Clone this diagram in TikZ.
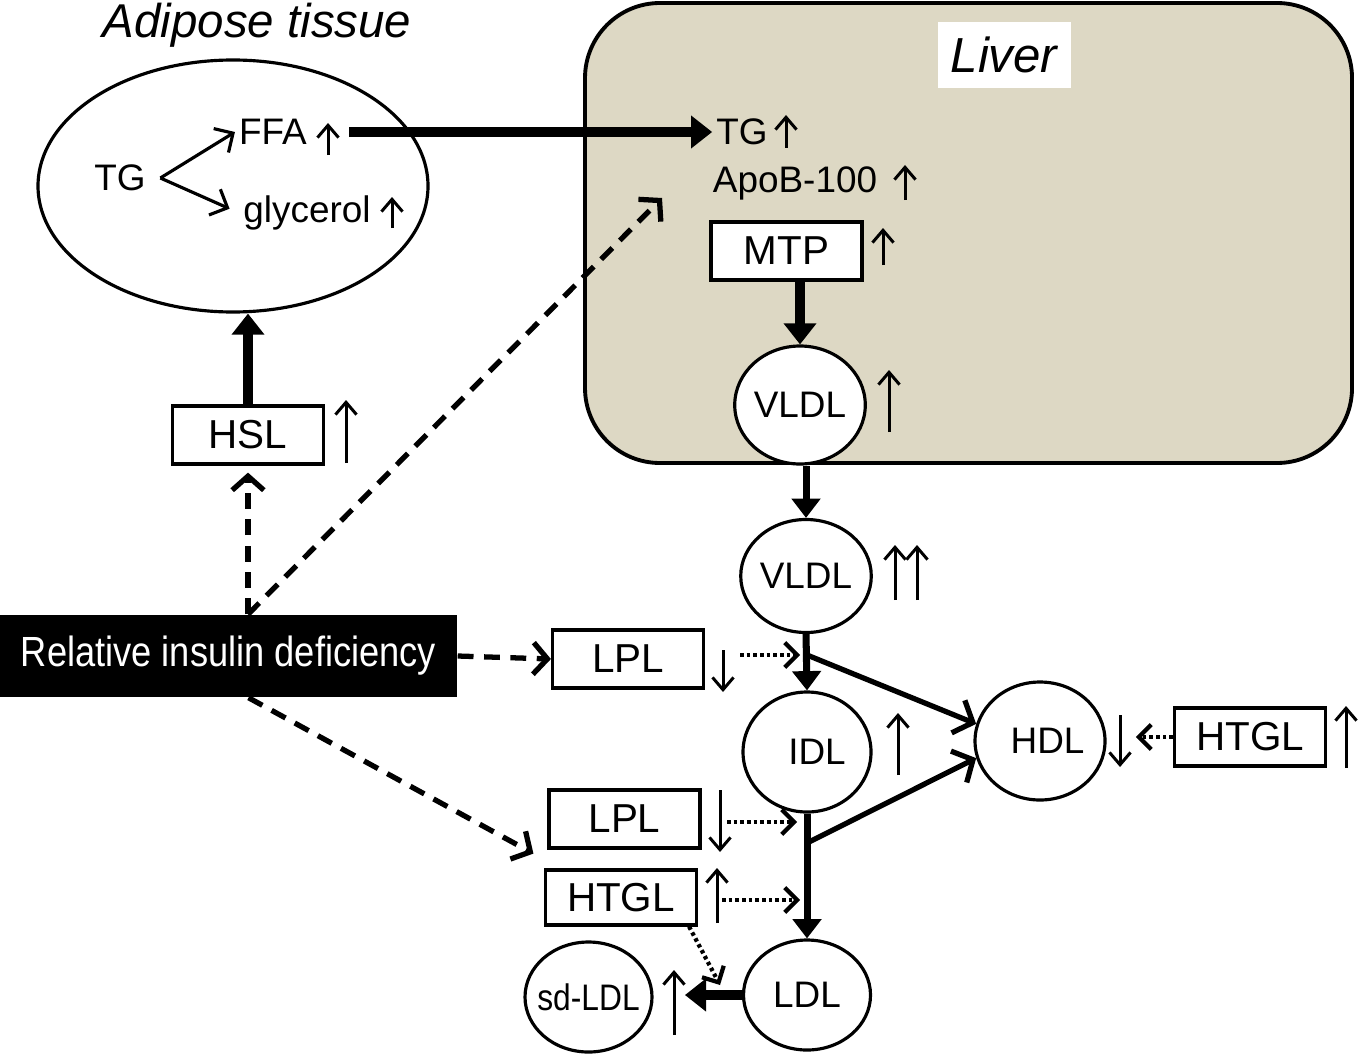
\documentclass[tikz,border=0pt]{standalone}
\usepackage{fontspec}
\setmainfont{Liberation Sans}
\newfontfamily\narrowfont{Liberation Sans}[FakeStretch=0.86]
\usetikzlibrary{arrows.meta, shapes.geometric, calc}
\definecolor{liverbg}{RGB}{221,216,196}

\begin{document}
\begin{tikzpicture}[
    box/.style={draw, line width=0.9pt, fill=white, minimum width=1.51cm, minimum height=0.58cm, inner sep=0pt, font=\fontsize{11.5}{13}\selectfont},
    lipo/.style={ellipse, draw, line width=0.9pt, fill=white, inner sep=0pt, font=\fontsize{10.5}{12}\selectfont},
    txt/.style={inner sep=1pt, font=\fontsize{10.5}{12}\selectfont},
    ind/.style={line width=0.85pt, -{Straight Barb[length=3.5pt, width=6pt]}},
    fork/.style={line width=0.9pt, -{Straight Barb[length=4pt, width=8pt]}},
    fat/.style={line width=3pt, -{Triangle[length=6pt, width=9pt]}},
    flow/.style={line width=2pt, -{Triangle[length=5.5pt, width=8pt]}},
    diag/.style={line width=1.5pt, -{Straight Barb[length=4.5pt, width=10pt]}},
    cue/.style={line width=1.5pt, dash pattern=on 4.5pt off 3pt, -{Straight Barb[length=4pt, width=9pt]}},
    dotarrow/.style={line width=1.2pt, dash pattern=on 1pt off 0.9pt, -{Straight Barb[length=3.5pt, width=7pt]}},
]
    \useasboundingbox (0,0) rectangle (13.58,-10.54);

    % adipose tissue
    \node[font=\fontsize{13.5}{16}\selectfont\itshape] (adtitle) at (2.57,-0.25) {Adipose tissue};
    \node[ellipse, draw, line width=0.9pt, minimum width=3.9cm, minimum height=2.52cm] (adipose) at (2.33,-1.86) {};
    \node[txt] (tg) at (1.20,-1.78) {TG};
    \node[txt] (ffa) at (2.73,-1.32) {FFA};
    \node[txt] (gly) at (3.07,-2.13) {glycerol};

    % liver
    \node[draw, line width=1.1pt, rounded corners=0.75cm, fill=liverbg, minimum width=7.67cm, minimum height=4.6cm] (liver) at (9.685,-2.33) {};
    \node[fill=white, minimum width=1.33cm, minimum height=0.66cm, font=\fontsize{14}{16}\selectfont\itshape] (livlab) at (10.04,-0.55) {Liver};
    \node[txt] (tgl) at (7.42,-1.32) {TG};
    \node[txt] (apob) at (7.95,-1.83) {ApoB-100};
    \node[box] (mtp) at (7.865,-2.51) {MTP};
    \node[lipo, minimum width=1.26cm, minimum height=1.18cm] (vldla) at (8.00,-4.05) {VLDL};

    % lipoproteins
    \node[lipo, minimum width=1.30cm, minimum height=1.13cm] (vldlb) at (8.06,-5.76) {VLDL};
    \node[lipo, minimum width=1.28cm, minimum height=1.20cm] (idl) at (8.07,-7.52) {\hspace*{0.2cm}IDL};
    \node[lipo, minimum width=1.30cm, minimum height=1.18cm] (hdl) at (10.40,-7.41) {\hspace*{0.15cm}HDL};
    \node[lipo, minimum width=1.27cm, minimum height=1.10cm] (ldl) at (8.07,-9.95) {LDL};
    \node[lipo, inner sep=-8pt, minimum width=1.27cm, minimum height=1.10cm, font=\narrowfont\fontsize{10.5}{12}\selectfont] (sdldl) at (5.885,-9.97) {sd-LDL};

    % enzymes
    \node[box] (hsl) at (2.48,-4.35) {HSL};
    \node[fill=black, text=white, minimum width=4.57cm, minimum height=0.82cm, font=\narrowfont\fontsize{12}{14}\selectfont] (rid) at (2.285,-6.56) {Relative insulin deficiency};
    \node[box] (lpla) at (6.28,-6.59) {LPL};
    \node[box] (htgla) at (12.50,-7.37) {HTGL};
    \node[box] (lplb) at (6.245,-8.19) {LPL};
    \node[box, minimum height=0.55cm] (htglb) at (6.21,-8.975) {HTGL};

    \coordinate (ja) at (8.07,-6.55);
    \coordinate (jb) at (8.07,-8.43);
    \coordinate (ca) at (8.07,-8.22);
    \coordinate (cb) at (8.07,-9.00);
    \coordinate (dtip) at (7.20,-9.85);
    \coordinate (apotip) at (6.62,-1.98);

    \draw[fork] ([xshift=3pt]tg.east) -- (ffa.west);
    \draw[fork, shorten >=3pt] ([xshift=3pt]tg.east) -- (gly.west);
    \draw[fat] ([xshift=0.38cm]ffa.east) -- (tgl.west);
    \draw[fat] (hsl.north) -- (hsl.north |- adipose.south);
    \draw[fat] (vldla.north |- mtp.south) -- (vldla.north);
    \draw[flow] (vldlb.north |- vldla.south) -- (vldlb.north);
    \draw[flow] (vldlb.south) -- (idl.north);
    \draw[diag] (ja) -- (hdl.165);
    \draw[flow] (idl.south) -- (ldl.north);
    \draw[diag] (jb) -- (hdl.195);
    \draw[fat] (ldl.west) -- ([xshift=-0.57cm]ldl.west);

    \draw[cue, shorten >=2pt] (hsl.south |- rid.north) -- (hsl.south);
    \draw[cue] (hsl.south |- rid.north) -- (apotip);
    \draw[cue] (rid.east) -- (lpla.west);
    \draw[cue] ([xshift=0.2cm]rid.south) -- ([xshift=-0.14cm, yshift=-0.04cm]lplb.south west);

    \draw[dotarrow] ([xshift=-0.67cm]ja) -- ([xshift=-0.07cm]ja);
    \draw[dotarrow] ([xshift=-0.8cm]ca) -- ([xshift=-0.1cm]ca);
    \draw[dotarrow] ([xshift=-0.85cm]cb) -- ([xshift=-0.07cm]cb);
    \draw[dotarrow] ([xshift=-0.09cm]htglb.south east) -- (dtip);
    \draw[dotarrow] (htgla.west) -- ([xshift=-0.37cm]htgla.west);

    % up / down marks
    \draw[ind] (3.28,-1.55) -- (3.28,-1.23);
    \draw[ind] (3.92,-2.28) -- (3.92,-1.97);
    \draw[ind] (3.46,-4.63) -- (3.46,-4.00);
    \draw[ind] (7.86,-1.48) -- (7.86,-1.15);
    \draw[ind] (9.05,-2.00) -- (9.05,-1.65);
    \draw[ind] (8.83,-2.65) -- (8.83,-2.28);
    \draw[ind] (8.89,-4.32) -- (8.89,-3.70);
    \draw[ind] (8.95,-6.00) -- (8.95,-5.45);
    \draw[ind] (9.17,-6.00) -- (9.17,-5.45);
    \draw[ind] (7.23,-6.50) -- (7.23,-6.92);
    \draw[ind] (8.98,-7.75) -- (8.98,-7.13);
    \draw[ind] (11.20,-7.15) -- (11.20,-7.67);
    \draw[ind] (13.46,-7.68) -- (13.46,-7.06);
    \draw[ind] (7.20,-7.90) -- (7.20,-8.52);
    \draw[ind] (7.17,-9.23) -- (7.17,-8.68);
    \draw[ind] (6.74,-10.35) -- (6.74,-9.70);
\end{tikzpicture}
\end{document}
